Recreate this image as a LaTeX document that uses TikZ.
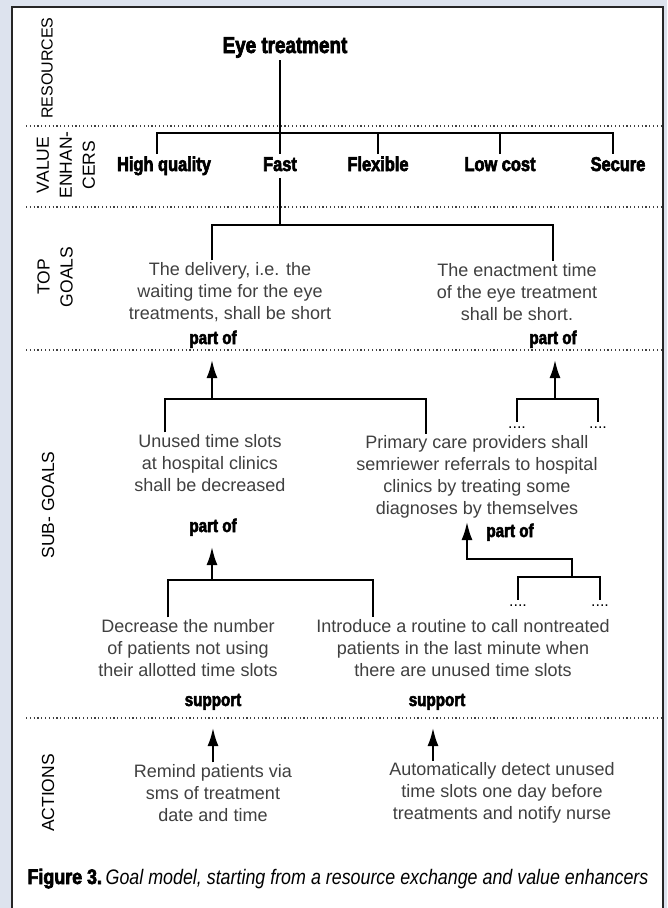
\documentclass[tikz,border=0pt]{standalone}
\usepackage{fontspec}
\setmainfont{Liberation Sans}
\newfontfamily\heavyfont{Liberation Sans}[FakeStretch=0.82,BoldFeatures={FakeBold=3}]
\newfontfamily\capfont{Liberation Sans}[FakeStretch=0.85,BoldFeatures={FakeBold=3}]
\usetikzlibrary{arrows.meta}
\definecolor{pagegrey}{RGB}{221,227,238}
\begin{document}
\begin{tikzpicture}[x=1pt,y=-1pt,
  goal/.style={align=center,text=black!75,inner sep=0pt,outer sep=2pt,font=\fontsize{18}{22}\selectfont},
  enh/.style={inner sep=0pt,outer sep=3pt,text height=14pt,text depth=4pt,font=\heavyfont\bfseries\fontsize{20}{22}\selectfont},
  rel/.style={inner sep=0pt,anchor=base,font=\heavyfont\bfseries\fontsize{18.5}{20}\selectfont},
  layer/.style={rotate=90,align=center,inner sep=0pt,font=\fontsize{17.5}{23}\selectfont},
  more/.style={inner sep=0pt,anchor=base,text height=6pt,text depth=0pt,font=\fontsize{16}{16}\selectfont},
  link/.style={line width=2pt},
  upward/.style={line width=2pt,-{Latex[length=18pt,width=11pt]}},
  layerline/.style={line width=1.2pt,black!75,dash pattern=on 1.2pt off 2.6pt}]
\useasboundingbox (0,0) rectangle (667,908);
\fill[pagegrey] (0,0) rectangle (667,908);
\filldraw[fill=white,draw=black!85,line width=2.5pt] (12,7) rectangle (663,940);
\foreach \y in {126,207,350,718} \draw[layerline] (26,\y) -- (663,\y);

% layers
\node[layer,font=\fontsize{16}{23}\selectfont] (resources) at (47,68) {RESOURCES};
\node[layer] (enhancers) at (66,165) {VALUE\\ENHAN-\\CERS};
\node[layer] (topgoals) at (55,277) {TOP\\GOALS};
\node[layer] (subgoals) at (48,505) {SUB- GOALS};
\node[layer] (actions) at (48,793) {ACTIONS};

\node[enh,anchor=base,font=\heavyfont\bfseries\fontsize{23}{26}\selectfont] (eye) at (285,53) {Eye treatment};
\node[enh] (hq) at (164,166) {High quality};
\node[enh] (fast) at (280,166) {Fast};
\node[enh] (flex) at (378,166) {Flexible};
\node[enh] (low) at (500,166) {Low cost};
\node[enh] (sec) at (618,166) {Secure};

\node[goal] (top1) at (230,292) {The delivery, i.e. the\\waiting time for the eye\\treatments, shall be short};
\node[goal] (top2) at (517,292) {The enactment time\\of the eye treatment\\shall be short.};
\node[rel] (po1) at (213,344) {part of};
\node[rel] (po2) at (553,344) {part of};

\node[goal] (sg1) at (210,463) {Unused time slots\\at hospital clinics\\shall be decreased};
\node[goal] (sg2) at (477,477) {Primary care providers shall\\semriewer referrals to hospital\\clinics by treating some\\diagnoses by themselves};
\node[more] (d1) at (517,428) {....};
\node[more] (d2) at (598,428) {....};
\node[rel] (po3) at (213,532) {part of};
\node[rel] (po4) at (510,537) {part of};
\node[more] (d3) at (518,606) {....};
\node[more] (d4) at (600,606) {....};

\node[goal] (ag1) at (188,648) {Decrease the number\\of patients not using\\their allotted time slots};
\node[goal] (ag2) at (463,648) {Introduce a routine to call nontreated\\patients in the last minute when\\there are unused time slots};
\node[rel] (s1) at (213,706) {support};
\node[rel] (s2) at (437,706) {support};

\node[goal] (act1) at (213,793) {Remind patients via\\sms of treatment\\date and time};
\node[goal] (act2) at (502,793) {Automatically detect unused\\time slots one day before\\treatments and notify nurse};

\node[anchor=base,inner sep=0pt] (caption) at (338,884) {{\capfont\bfseries\fontsize{21}{23}\selectfont Figure 3.} {\capfont\itshape\fontsize{21}{23}\selectfont Goal model, starting from a resource exchange and value enhancers}};

\coordinate (vejoin) at (280,133);
\coordinate (tgjoin) at (280,225);
\coordinate (joinA) at (212,399);
\coordinate (joinB) at (555,399);
\coordinate (joinC) at (212,580);
\coordinate (joinD) at (572,577);
\coordinate (tipA) at (212,360);
\coordinate (tipB) at (555,360);
\coordinate (tipC) at (212,547);
\coordinate (tipD) at (467,522);
\coordinate (tipE) at (213,728);
\coordinate (tipF) at (433,728);

\draw[link] (fast.north |- eye.south) -- (fast.north);
\draw[link] ([xshift=-7pt]hq.north) |- (vejoin) -| ([xshift=-5pt]sec.north);
\draw[link] (flex.north) -- (flex.north |- vejoin);
\draw[link] (low.north) -- (low.north |- vejoin);
\draw[link] (fast.south) -- (tgjoin);
\draw[link] ([xshift=-18pt]top1.north) |- (tgjoin) -| ([xshift=36pt]top2.north);

\draw[link] ([xshift=-45pt]sg1.north) |- (joinA) -| ([xshift=-51pt]sg2.north);
\draw[upward] (joinA) -- (tipA);
\draw[link] (d1.north) |- (joinB) -| (d2.north);
\draw[upward] (joinB) -- (tipB);

\draw[link] ([xshift=-20pt]ag1.north) |- (joinC) -| ([xshift=-90pt]ag2.north);
\draw[upward] (joinC) -- (tipC);
\draw[link] (d3.north) |- (joinD) -| (d4.north);
\draw[upward] (joinD) -- ++(0,-18) -| (tipD);

\draw[upward] (act1.north -| tipE) -- (tipE);
\draw[upward] (act2.north -| tipF) -- (tipF);
\end{tikzpicture}
\end{document}
